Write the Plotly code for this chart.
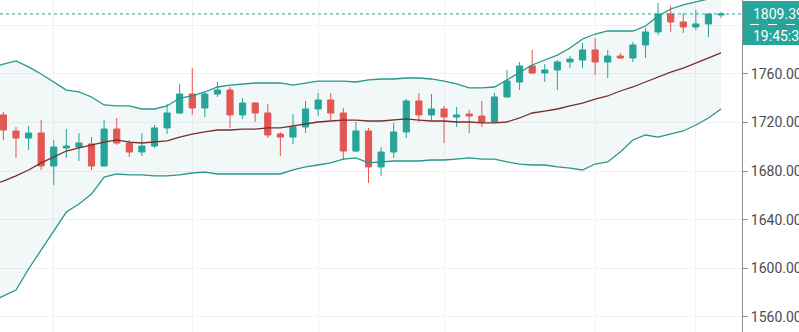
import plotly.graph_objects as go

# --- price data (bar index, OHLC) ---
bars = list(range(58))
opens = [1726.3, 1713.1, 1707.3, 1711.4, 1684.3, 1699.1, 1699.9, 1702.4, 1684.3, 1714.7,
         1703.2, 1695.8, 1700.7, 1715.6, 1727.9, 1743.5, 1732.0, 1743.5, 1746.8, 1726.3,
         1736.1, 1727.9, 1710.6, 1708.1, 1716.4, 1731.2, 1738.6, 1727.9, 1696.6, 1713.1,
         1683.5, 1695.8, 1712.3, 1737.8, 1726.3, 1731.2, 1724.6, 1727.1, 1725.4, 1720.5,
         1741.1, 1753.4, 1766.6, 1760.8, 1763.3, 1769.9, 1771.5, 1779.8, 1769.9, 1774.8,
         1773.2, 1783.9, 1794.6, 1809.4, 1802.8, 1798.7, 1801.2, 1808.6]
highs = [1728.7, 1716.4, 1717.2, 1722.1, 1705.7, 1714.7, 1711.4, 1708.1, 1722.1, 1723.8,
         1705.7, 1711.4, 1718.0, 1735.3, 1751.8, 1764.9, 1745.2, 1753.4, 1749.3, 1740.2,
         1736.6, 1735.3, 1712.3, 1727.1, 1737.8, 1744.4, 1744.4, 1732.0, 1720.5, 1715.6,
         1699.9, 1719.7, 1739.4, 1744.4, 1743.5, 1733.7, 1732.8, 1730.4, 1737.8, 1744.4,
         1763.3, 1769.9, 1779.8, 1768.2, 1771.5, 1774.8, 1785.5, 1789.6, 1779.8, 1777.3,
         1786.3, 1797.9, 1818.4, 1816.0, 1810.2, 1812.7, 1810.2, 1811.0]
lows = [1705.7, 1690.9, 1697.5, 1681.0, 1668.6, 1690.9, 1688.4, 1681.0, 1683.5, 1701.6,
        1691.7, 1692.5, 1699.1, 1710.6, 1727.1, 1726.3, 1724.6, 1741.1, 1715.6, 1723.0,
        1720.5, 1707.3, 1692.5, 1702.4, 1711.4, 1725.4, 1722.1, 1689.2, 1695.8, 1670.3,
        1676.1, 1690.9, 1707.3, 1720.5, 1722.1, 1703.2, 1716.4, 1711.4, 1716.4, 1719.7,
        1740.5, 1746.8, 1760.2, 1753.4, 1746.8, 1764.9, 1764.9, 1759.2, 1756.7, 1772.3,
        1769.9, 1773.2, 1792.1, 1794.6, 1793.7, 1796.2, 1790.5, 1806.1]
closes = [1713.9, 1707.3, 1711.4, 1684.3, 1699.9, 1700.7, 1703.2, 1684.3, 1714.7, 1703.2,
          1695.8, 1700.7, 1715.6, 1727.9, 1743.5, 1732.0, 1743.5, 1746.8, 1726.3, 1736.1,
          1727.9, 1709.8, 1708.1, 1716.4, 1731.2, 1738.6, 1727.9, 1696.6, 1713.1, 1683.5,
          1695.8, 1712.3, 1737.8, 1726.3, 1731.2, 1724.6, 1726.3, 1725.4, 1720.5, 1741.1,
          1754.2, 1766.6, 1760.8, 1763.3, 1769.9, 1772.3, 1779.8, 1769.9, 1774.8, 1773.2,
          1783.9, 1794.6, 1809.4, 1802.8, 1798.7, 1801.2, 1809.4, 1809.39]

# --- Bollinger Bands (one extra bar on the left, before the first candle) ---
band_bars = list(range(-1, 58))
bb_upper = [1764.9, 1768.2, 1770.7, 1765.8, 1760.0, 1753.4, 1746.8, 1745.2, 1741.1, 1734.5,
            1733.7, 1733.7, 1731.2, 1731.2, 1733.7, 1740.2, 1741.9, 1745.2, 1749.3, 1750.9,
            1751.8, 1752.6, 1752.6, 1752.6, 1750.9, 1752.6, 1754.2, 1754.2, 1754.2, 1753.4,
            1755.1, 1755.9, 1755.9, 1756.7, 1756.7, 1755.9, 1754.2, 1751.8, 1748.5, 1748.5,
            1749.3, 1755.1, 1761.6, 1767.4, 1771.5, 1775.6, 1781.4, 1788.8, 1792.9, 1795.4,
            1795.4, 1795.4, 1799.5, 1807.7, 1813.5, 1816.8, 1819.3, 1821.7, 1824.2]
bb_basis = [1668.6, 1671.9, 1676.1, 1681.0, 1686.8, 1691.7, 1696.6, 1699.1, 1701.6, 1704.0,
            1705.7, 1704.0, 1703.2, 1704.0, 1704.9, 1708.1, 1710.6, 1712.3, 1713.9, 1713.9,
            1714.7, 1714.7, 1715.6, 1715.6, 1717.2, 1718.9, 1720.5, 1721.3, 1722.1, 1722.1,
            1721.3, 1721.3, 1722.1, 1723.0, 1722.1, 1721.3, 1721.3, 1720.5, 1720.5, 1719.7,
            1719.7, 1720.5, 1723.8, 1727.9, 1729.5, 1731.2, 1733.7, 1736.1, 1739.4, 1741.9,
            1746.0, 1749.3, 1753.4, 1757.5, 1761.6, 1764.9, 1769.1, 1773.2, 1777.3]
bb_lower = [1572.4, 1577.3, 1582.2, 1599.5, 1615.1, 1630.8, 1646.4, 1653.0, 1661.2, 1675.2,
            1677.7, 1676.9, 1676.9, 1676.1, 1676.1, 1676.9, 1678.5, 1679.3, 1677.7, 1677.7,
            1677.7, 1677.7, 1677.7, 1677.7, 1681.0, 1683.5, 1685.1, 1686.8, 1690.0, 1690.9,
            1686.8, 1687.6, 1688.4, 1688.4, 1688.4, 1689.2, 1689.2, 1690.0, 1690.9, 1690.0,
            1690.0, 1687.6, 1685.9, 1685.1, 1685.1, 1683.5, 1682.6, 1681.0, 1685.9, 1687.6,
            1695.8, 1705.7, 1709.8, 1708.1, 1710.6, 1713.1, 1718.0, 1723.8, 1731.2]

# session boundaries (vertical grid) and price ticks
session_bars = [4, 15, 25, 35, 47, 55]
price_ticks = [1560, 1600, 1640, 1680, 1720, 1760, 1800]
last_price = 1809.39
countdown = "19:45:38"

UP = "#26a69a"
DOWN = "#ef5350"
BAND = "#26978b"
BASIS = "#7e2b2b"
GRID = "#f0f2f5"
FONT = "Roboto"

fig = go.Figure()

fig.add_trace(go.Scatter(
    x=band_bars, y=bb_upper, mode="lines",
    line=dict(color=BAND, width=1.3), hoverinfo="skip", showlegend=False))
fig.add_trace(go.Scatter(
    x=band_bars, y=bb_lower, mode="lines",
    line=dict(color=BAND, width=1.3), fill="tonexty",
    fillcolor="rgba(38,151,139,0.065)", hoverinfo="skip", showlegend=False))
fig.add_trace(go.Scatter(
    x=band_bars, y=bb_basis, mode="lines",
    line=dict(color=BASIS, width=1.3), hoverinfo="skip", showlegend=False))

fig.add_trace(go.Candlestick(
    x=bars, open=opens, high=highs, low=lows, close=closes,
    increasing=dict(line=dict(color=UP, width=1), fillcolor=UP),
    decreasing=dict(line=dict(color=DOWN, width=1), fillcolor=DOWN),
    whiskerwidth=0, showlegend=False))

plot_w = 742
bar_px = 12.59
x0 = -3.4 / bar_px
x1 = x0 + plot_w / bar_px

# the 1800 level sits under the price label, so its text is left blank
tick_text = ["" if v == 1800 else f"{v:.2f}" for v in price_ticks]

fig.update_layout(
    width=799, height=332,
    margin=dict(l=0, r=799 - plot_w, t=0, b=0),
    paper_bgcolor="white", plot_bgcolor="white",
    showlegend=False,
    xaxis=dict(
        range=[x0, x1], rangeslider=dict(visible=False),
        tickvals=session_bars, showticklabels=False, ticks="",
        showgrid=True, gridcolor=GRID, gridwidth=1, zeroline=False,
        showline=False, fixedrange=True),
    yaxis=dict(
        side="right", range=[1547.65, 1820.9],
        tickvals=price_ticks, ticktext=tick_text,
        ticks="outside", ticklen=5, tickcolor="#8d8f96", tickwidth=1,
        showline=True, linecolor="#8d8f96", linewidth=1,
        showgrid=True, gridcolor=GRID, gridwidth=1, zeroline=False,
        tickfont=dict(family=FONT, size=14, color="#4a4c52"),
        automargin=False, fixedrange=True),
)

# last-price dotted line across the pane
fig.add_shape(type="line", xref="paper", yref="y", x0=0, x1=1,
              y0=last_price, y1=last_price, layer="above",
              line=dict(color=UP, width=1, dash="dot"))

# price / countdown label on the scale
box_right = 799 / plot_w + 0.05
fig.add_shape(type="rect", xref="paper", yref="paper",
              x0=1 + 1 / plot_w, x1=box_right,
              y0=1 - 45 / 332, y1=1 - 1 / 332, layer="above",
              line=dict(width=0), fillcolor=UP)
fig.add_shape(type="line", xref="paper", yref="paper",
              x0=1 + 8 / plot_w, x1=box_right,
              y0=1 - 24.5 / 332, y1=1 - 24.5 / 332, layer="above",
              line=dict(color="white", width=1, dash="dash"))
fig.add_annotation(xref="paper", yref="y", x=1 + 9 / plot_w, y=last_price,
                   text=f"{last_price:.2f}", showarrow=False,
                   xanchor="left", yanchor="middle",
                   font=dict(family=FONT, size=14, color="white"))
fig.add_annotation(xref="paper", yref="y", x=1 + 9 / plot_w, y=last_price,
                   yshift=-22, text=countdown, showarrow=False,
                   xanchor="left", yanchor="middle",
                   font=dict(family=FONT, size=14, color="white"))

fig.write_html("out.html", config=dict(displayModeBar=False))
